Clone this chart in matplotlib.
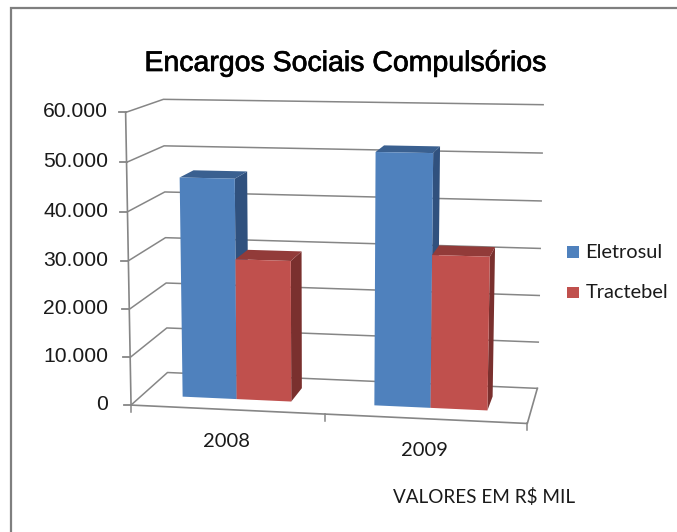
import matplotlib
matplotlib.use('Agg')
import matplotlib.pyplot as plt
from matplotlib.patches import Polygon, Rectangle
import matplotlib.patheffects as pe
import numpy as np

categories = ['2008', '2009']
series_names = ['Eletrosul', 'Tractebel']
eletrosul = [46000, 52000]
tractebel = [29400, 31500]
y_ticks = [0, 10000, 20000, 30000, 40000, 50000, 60000]
y_tick_labels = ['0', '10.000', '20.000', '30.000', '40.000', '50.000', '60.000']
title = 'Encargos Sociais Compulsórios'
note = 'VALORES EM R$ MIL'

front_colors = ['#4F81BD', '#C0504D']
side_colors = ['#30517E', '#7A302E']
top_colors = ['#3A6090', '#923B39']
GRID = '#868686'
TEXT = '#1a1a1a'

world_pts = np.array([
    [0, 0, 0], [0, 60000, 0], [0, 0, 1], [0, 60000, 1],
    [1, 0, 1], [1, 60000, 1], [1, 0, 0],
    [0, 30000, 1], [1, 30000, 1],
], dtype=float)
pixel_pts = np.array([
    [131, 405], [126, 112], [168, 373], [163, 100],
    [537, 388], [543, 105], [527, 424],
    [165, 237], [541, 248],
], dtype=float)


def fit_camera(world, pix):
    w = world / np.array([1, 60000, 1])
    rows = []
    rhs = []
    for (a, b, c), (u, v) in zip(w, pix):
        rows.append([a, b, c, 1, 0, 0, 0, 0, -u * a, -u * b, -u * c])
        rows.append([0, 0, 0, 0, a, b, c, 1, -v * a, -v * b, -v * c])
        rhs += [u, v]
    p = np.linalg.lstsq(np.array(rows), np.array(rhs), rcond=None)[0]
    return np.append(p, 1).reshape(3, 4)


CAM = fit_camera(world_pts, pixel_pts)


def proj(x, val, z):
    h = CAM @ np.array([x, val / 60000, z, 1.0])
    return h[0] / h[2], h[1] / h[2]


fig = plt.figure(figsize=(6.77, 5.32), dpi=100)
ax = fig.add_axes([0, 0, 1, 1])
ax.set_xlim(0, 677)
ax.set_ylim(532, 0)
ax.axis('off')
plt.rcParams['font.family'] = 'Lato'

# outer frame, only left and top are inside the picture
ax.plot([11, 11, 677], [532, 8, 8], color='#7f7f7f', lw=1.6, solid_joinstyle='miter')

# walls
for val, lab in zip(y_ticks, y_tick_labels):
    a, b, c = proj(0, val, 0), proj(0, val, 1), proj(1, val, 1)
    ax.plot([a[0], b[0], c[0]], [a[1], b[1], c[1]], color=GRID, lw=1.1, zorder=1)
    ax.plot([a[0] - 7, a[0]], [a[1], a[1]], color=GRID, lw=1.3, zorder=1)
    ax.text(108, a[1] - 0.5, lab, ha='right', va='center', fontsize=15.2, color=TEXT,
            family='Liberation Sans')

# axis and floor
pts = [proj(0, 60000, 0), proj(0, 0, 0), proj(1, 0, 0), proj(1, 0, 1)]
ax.plot(*zip(*pts), color=GRID, lw=1.2, zorder=1)
for cx in [0, 0.5, 1]:
    p = proj(cx, 0, 0)
    ax.plot([p[0], p[0]], [p[1], p[1] + 7], color=GRID, lw=1.1, zorder=1)

# bars
bar_w = 1 / 7
z0, z1 = 0.3, 0.7
for i, cat in enumerate(categories):
    centre = 0.25 + 0.5 * i
    for j, vals in enumerate([eletrosul, tractebel]):
        x0 = centre + (j - 1) * bar_w
        x1 = x0 + bar_w
        v = vals[i]
        zo = 3 + i * 3 + j
        front = [proj(x0, 0, z0), proj(x1, 0, z0), proj(x1, v, z0), proj(x0, v, z0)]
        side = [proj(x1, 0, z0), proj(x1, 0, z1), proj(x1, v, z1), proj(x1, v, z0)]
        top = [proj(x0, v, z0), proj(x1, v, z0), proj(x1, v, z1), proj(x0, v, z1)]
        ax.add_patch(Polygon(side, closed=True, facecolor=side_colors[j], edgecolor='none', zorder=zo))
        ax.add_patch(Polygon(top, closed=True, facecolor=top_colors[j], edgecolor='none', zorder=zo))
        ax.add_patch(Polygon(front, closed=True, facecolor=front_colors[j], edgecolor='none', zorder=zo + 0.5))
    p = proj(centre, 0, 0)
    ax.text(p[0] - 1, p[1] + 32, cat, ha='center', va='center', fontsize=14.5, color=TEXT)

ax.text(345.5, 64, title, ha='center', va='center', fontsize=20.5, color='black',
        family='Liberation Sans',
        path_effects=[pe.withStroke(linewidth=0.5, foreground='black')])

# legend
for name, col, ly in zip(series_names, front_colors, [252, 292.5]):
    ax.add_patch(Rectangle((567, ly - 6), 11.5, 11.5, facecolor=col, edgecolor='none'))
    ax.text(585.5, ly, name, ha='left', va='center', fontsize=14.4, color=TEXT)

ax.text(484, 497, note, ha='center', va='center', fontsize=13.6, color=TEXT)

plt.savefig('out.png', dpi=100)
